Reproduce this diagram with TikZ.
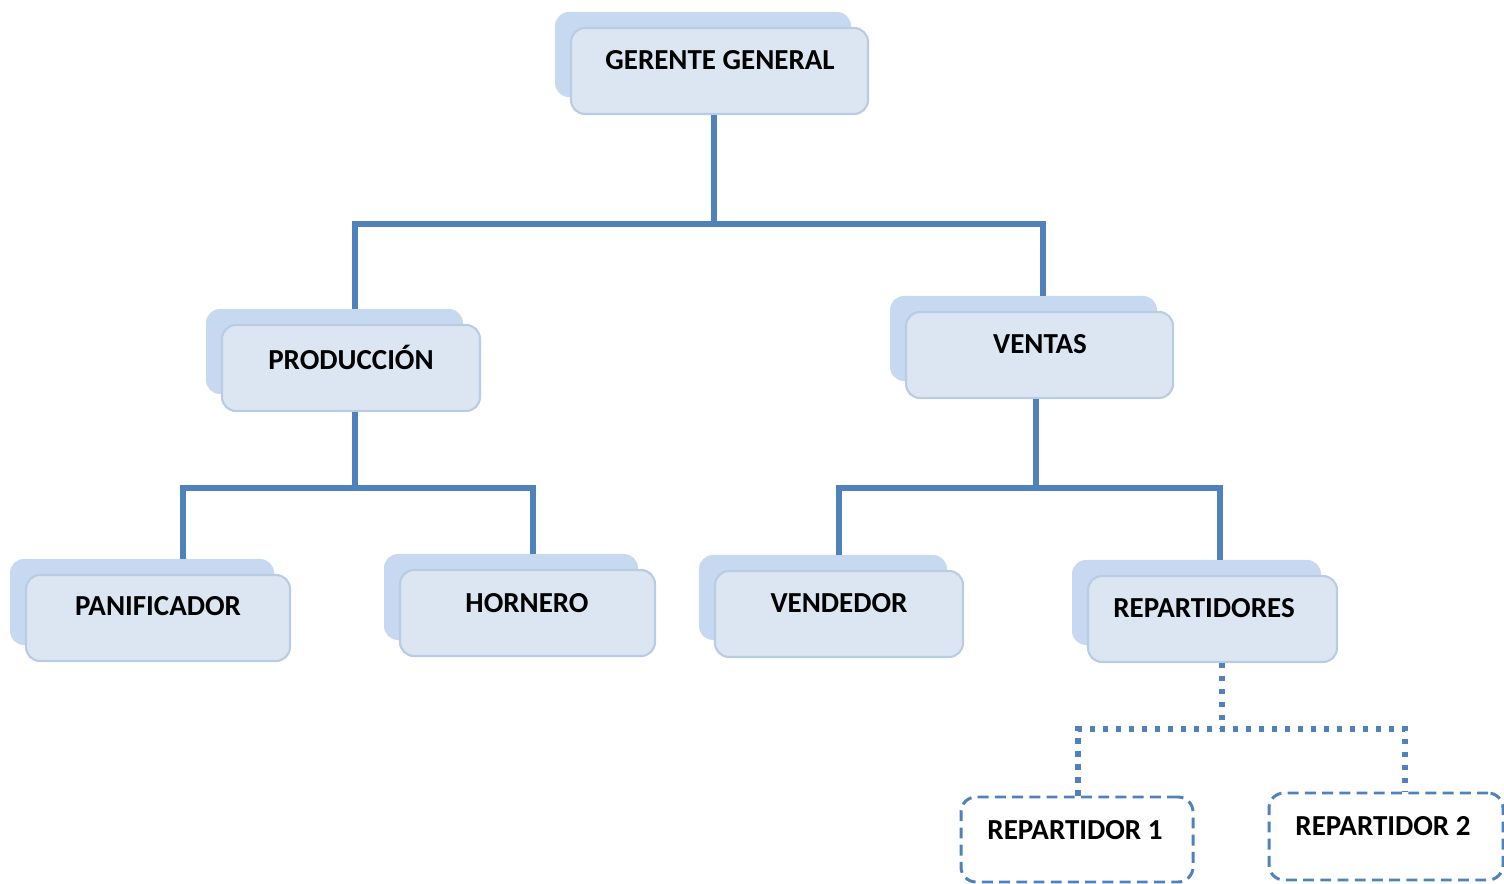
\documentclass[tikz,border=0pt]{standalone}
\usepackage{fontspec}
\setmainfont{Carlito}
\usetikzlibrary{fit}
\definecolor{backc}{HTML}{C6D9F1}
\definecolor{frontc}{HTML}{DCE6F2}
\definecolor{edgec}{HTML}{B8CCE4}
\definecolor{linec}{HTML}{4F81BD}
\tikzset{
  backbox/.style={fill=backc, draw=none, rounded corners=0.28cm, inner sep=0pt},
  frontbox/.style={fill=frontc, draw=edgec, line width=1.2pt, rounded corners=0.28cm, inner sep=0pt},
  lbl/.style={font=\bfseries\fontsize{16.5}{19}\selectfont, text=black, inner sep=0pt},
  conn/.style={draw=linec, line width=3.3pt},
  dotconn/.style={draw=linec, line width=3.4pt, dash pattern=on 3pt off 4.4pt},
  dashbox/.style={draw=linec, line width=1.7pt, dash pattern=on 6.2pt off 3.6pt, rounded corners=0.3cm, fill=white, inner sep=0pt}
}
\begin{document}
\begin{tikzpicture}[x=0.02cm,y=-0.02cm]
\useasboundingbox (0,0) rectangle (1504,884);
% GERENTE GENERAL
\node[backbox, fit={(555,12)(851,97)}] (gerB) {};
\node[frontbox, fit={(571,28)(868,114)}] (ger) {};
\node[lbl] (gerT) at (720,60) {GERENTE GENERAL};
% PRODUCCION
\node[backbox, fit={(206,309)(463,394)}] (proB) {};
\node[frontbox, fit={(222,325)(480,411)}] (pro) {};
\node[lbl] (proT) at (351,357) {PRODUCCIÓN};
% VENTAS
\node[backbox, fit={(890,296)(1157,381)}] (venB) {};
\node[frontbox, fit={(906,312)(1173,398)}] (ven) {};
\node[lbl] (venT) at (1040,344) {VENTAS};
% PANIFICADOR
\node[backbox, fit={(10,559)(274,645)}] (panB) {};
\node[frontbox, fit={(26,575)(290,661)}] (pan) {};
\node[lbl] (panT) at (158,606) {PANIFICADOR};
% HORNERO
\node[backbox, fit={(384,554)(638,640)}] (horB) {};
\node[frontbox, fit={(400,570)(655,656)}] (hor) {};
\node[lbl] (horT) at (527,603) {HORNERO};
% VENDEDOR
\node[backbox, fit={(699,555)(947,640)}] (vddB) {};
\node[frontbox, fit={(715,571)(963,657)}] (vdd) {};
\node[lbl] (vddT) at (839,603) {VENDEDOR};
% REPARTIDORES
\node[backbox, fit={(1072,560)(1321,645)}] (repB) {};
\node[frontbox, fit={(1088,576)(1337,662)}] (rep) {};
\node[lbl] (repT) at (1204,608) {REPARTIDORES};
% REPARTIDOR 1, 2
\node[dashbox, fit={(961,797)(1193,882)}] (r1) {};
\node[lbl] (r1T) at (1075,830) {REPARTIDOR 1};
\node[dashbox, fit={(1269,793)(1503,880)}] (r2) {};
\node[lbl] (r2T) at (1383,826) {REPARTIDOR 2};
% junction coordinates
\coordinate (j1) at (714,224);
\coordinate (j2) at (355,488);
\coordinate (j3) at (1036,488);
\coordinate (j4) at (1222,729);
% connectors
\draw[conn] (ger.south -| j1) -- (j1);
\draw[conn] (proB.north -| 355,0) -- (355,224) -- (1043,224) -- (venB.north -| 1043,0);
\draw[conn] (pro.south -| j2) -- (j2);
\draw[conn] (panB.north -| 183,0) -- (183,488) -- (533,488) -- (horB.north -| 533,0);
\draw[conn] (ven.south -| j3) -- (j3);
\draw[conn] (vddB.north -| 839,0) -- (839,488) -- (1220,488) -- (repB.north -| 1220,0);
\draw[dotconn] (rep.south -| j4) -- (j4);
\draw[dotconn] (r1.north -| 1078,0) -- (1078,729) -- (1405,729) -- (r2.north -| 1405,0);
\end{tikzpicture}
\end{document}
